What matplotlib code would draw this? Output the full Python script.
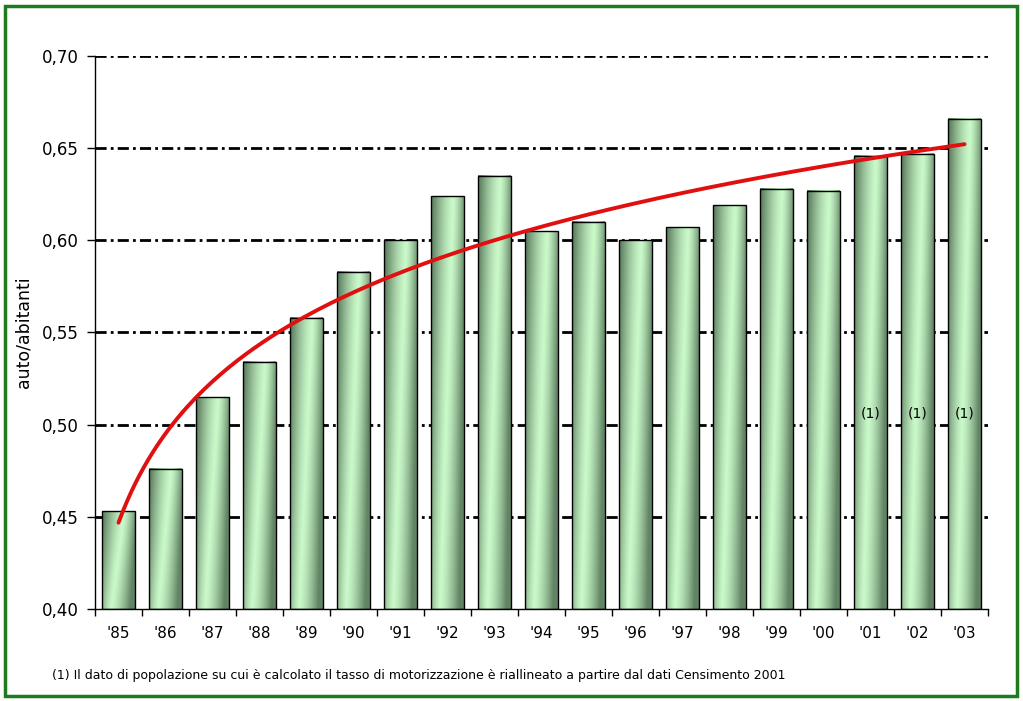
import numpy as np
import matplotlib
matplotlib.use("Agg")
import matplotlib.pyplot as plt
from matplotlib.patches import Rectangle
from matplotlib.ticker import FixedLocator

years = ["'85", "'86", "'87", "'88", "'89", "'90", "'91", "'92", "'93", "'94",
         "'95", "'96", "'97", "'98", "'99", "'00", "'01", "'02", "'03"]
values = [0.453, 0.476, 0.515, 0.534, 0.558, 0.583, 0.600, 0.624, 0.635, 0.605,
          0.610, 0.600, 0.607, 0.619, 0.628, 0.627, 0.646, 0.647, 0.666]
note_idx = [16, 17, 18]
note_text = "(1)"
yticks = [0.40, 0.45, 0.50, 0.55, 0.60, 0.65, 0.70]
ylabel = "auto/abitanti"
footnote = ("(1) Il dato di popolazione su cui è calcolato il tasso di motorizzazione "
            "è riallineato a partire dal dati Censimento 2001")

plt.rcParams['font.family'] = ['DejaVu Sans']

fig = plt.figure(figsize=(10.23, 7.01), dpi=100)
ax = fig.add_axes([95/1023, 1-609/701, 893/1023, (609-56)/701])

n = len(values)
x = np.arange(n)
ymin, ymax = 0.40, 0.70
width = 0.70

# diagonal gradient: light band moves from right (top) to left (bottom)
dark = np.array([0x62, 0x84, 0x64]) / 255
light = np.array([0xc9, 0xf8, 0xc9]) / 255
cols, rows = 64, 128
u = np.linspace(0, 1, cols)[None, :]
v = np.linspace(0, 1, rows)[:, None]
center = 0.68 - 0.40 * v
d = u - center
scale = np.where(d < 0, 0.62 - 0.2 * v, 0.38 + 0.2 * v)
s = np.clip(np.abs(d) / scale, 0, 1) ** 1.4
img = light[None, None, :] + (dark - light)[None, None, :] * s[:, :, None]

# gridlines
for yt in yticks[1:]:
    ax.axhline(yt, color='black', lw=2.0, linestyle=(0, (4, 1.5, 1, 1.5)), zorder=1)

for xi, val in zip(x, values):
    ax.imshow(img, extent=[xi - width/2, xi + width/2, ymin, val],
              aspect='auto', zorder=2, interpolation='bilinear')
ax.bar(x, np.array(values) - ymin, bottom=ymin, width=width, facecolor='none',
       edgecolor='black', lw=1.0, zorder=3)

# log trend line
coef = np.polyfit(np.log(x + 1), values, 1)
xs = np.linspace(0, n - 1, 200)
ax.plot(xs, coef[1] + coef[0] * np.log(xs + 1), color='#e01010', lw=2.8, zorder=4,
        solid_capstyle='round')

for i in note_idx:
    ax.text(i, 0.506, note_text, ha='center', va='center', fontsize=10, zorder=5)

ax.set_xlim(-0.5, n - 0.5)
ax.set_ylim(ymin, ymax)
ax.set_yticks(yticks)
ax.set_yticklabels([f"{t:.2f}".replace('.', ',') for t in yticks], fontsize=12)
ax.set_xticks(x)
ax.set_xticklabels(years, fontsize=11)
ax.xaxis.set_minor_locator(FixedLocator(np.arange(-0.5, n, 1.0)))
ax.tick_params(axis='x', which='major', length=0, pad=12)
ax.tick_params(axis='x', which='minor', length=5, width=1, direction='out')
ax.tick_params(axis='y', which='major', length=6, width=1, direction='out', pad=6)
for sp in ['top', 'right']:
    ax.spines[sp].set_visible(False)
for sp in ['left', 'bottom']:
    ax.spines[sp].set_linewidth(1.0)
    ax.spines[sp].set_zorder(6)
ax.set_ylabel(ylabel, fontsize=12.5, labelpad=8)
ax.yaxis.set_label_coords(-63/893, 0.5)

fig.text(52/1023, 1-675/701, footnote, fontsize=9, va='center', ha='left')

fig.patches.append(Rectangle((5/1023, 5/701), 1012/1023, 690/701, transform=fig.transFigure,
                             fill=False, edgecolor='#1f7a1f', lw=2.5))

fig.savefig("out.png", dpi=100)
